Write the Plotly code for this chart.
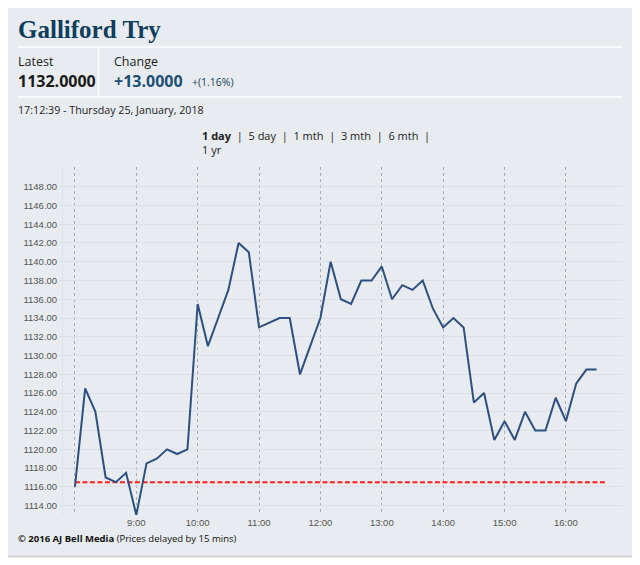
import plotly.graph_objects as go

# ---------------- data ----------------
times = [
    "2018-01-25 08:00", "2018-01-25 08:10", "2018-01-25 08:20", "2018-01-25 08:30",
    "2018-01-25 08:40", "2018-01-25 08:50", "2018-01-25 09:00", "2018-01-25 09:10",
    "2018-01-25 09:20", "2018-01-25 09:30", "2018-01-25 09:40", "2018-01-25 09:50",
    "2018-01-25 10:00", "2018-01-25 10:10", "2018-01-25 10:20", "2018-01-25 10:30",
    "2018-01-25 10:40", "2018-01-25 10:50", "2018-01-25 11:00", "2018-01-25 11:10",
    "2018-01-25 11:20", "2018-01-25 11:30", "2018-01-25 11:40", "2018-01-25 11:50",
    "2018-01-25 12:00", "2018-01-25 12:10", "2018-01-25 12:20", "2018-01-25 12:30",
    "2018-01-25 12:40", "2018-01-25 12:50", "2018-01-25 13:00", "2018-01-25 13:10",
    "2018-01-25 13:20", "2018-01-25 13:30", "2018-01-25 13:40", "2018-01-25 13:50",
    "2018-01-25 14:00", "2018-01-25 14:10", "2018-01-25 14:20", "2018-01-25 14:30",
    "2018-01-25 14:40", "2018-01-25 14:50", "2018-01-25 15:00", "2018-01-25 15:10",
    "2018-01-25 15:20", "2018-01-25 15:30", "2018-01-25 15:40", "2018-01-25 15:50",
    "2018-01-25 16:00", "2018-01-25 16:10", "2018-01-25 16:20", "2018-01-25 16:30",
]
prices = [
    1116.0, 1126.5, 1124.0, 1117.0, 1116.5, 1117.5, 1113.0, 1118.5,
    1119.0, 1120.0, 1119.5, 1120.0, 1135.5, 1131.0, 1134.0, 1137.0,
    1142.0, 1141.0, 1133.0, 1133.5, 1134.0, 1134.0, 1128.0, 1131.0,
    1134.0, 1140.0, 1136.0, 1135.5, 1138.0, 1138.0, 1139.5, 1136.0,
    1137.5, 1137.0, 1138.0, 1135.0, 1133.0, 1134.0, 1133.0, 1125.0,
    1126.0, 1121.0, 1123.0, 1121.0, 1124.0, 1122.0, 1122.0, 1125.5,
    1123.0, 1127.0, 1128.5, 1128.5,
]
ref_times = ["2018-01-25 08:00", "2018-01-25 16:40"]
ref_values = [1116.5, 1116.5]

hour_ticks = ["2018-01-25 08:00", "2018-01-25 09:00", "2018-01-25 10:00",
              "2018-01-25 11:00", "2018-01-25 12:00", "2018-01-25 13:00",
              "2018-01-25 14:00", "2018-01-25 15:00", "2018-01-25 16:00"]
hour_labels = ["", "9:00", "10:00", "11:00", "12:00", "13:00", "14:00", "15:00", "16:00"]
y_ticks = [1114, 1116, 1118, 1120, 1122, 1124, 1126, 1128, 1130, 1132,
           1134, 1136, 1138, 1140, 1142, 1144, 1146, 1148]
y_labels = ["%.2f" % v for v in y_ticks]

title = "Galliford Try"
latest = "1132.0000"
change = "+13.0000"
change_pct = "+(1.16%)"
stamp = "17:12:39 - Thursday 25, January, 2018"

# ---------------- layout helpers ----------------
# The page body has an 8px margin, so figure coords = page coords - 8.
OFF = 8
W, H = 624, 550
L, R, T, B = 63 - OFF, 622 - OFF, 167 - OFF, 515 - OFF
PW, PH = R - L, B - T


def px(x):
    return (x - OFF - L) / PW


def py(y):
    return (B - (y - OFF)) / PH


PANEL = "#e8ebef"
HEAD = "Open Sans"

fig = go.Figure()
fig.add_trace(go.Scatter(x=ref_times, y=ref_values, mode="lines",
                         line=dict(color="#ff1e1e", width=2, dash="5px,2.5px"),
                         hoverinfo="skip", showlegend=False))
fig.add_trace(go.Scatter(x=times, y=prices, mode="lines",
                         line=dict(color="#2d5080", width=2),
                         showlegend=False))

shapes = [
    dict(type="rect", xref="paper", yref="paper", x0=px(0), x1=px(700), y0=py(600), y1=py(556),
         fillcolor="#ffffff", line=dict(width=0), layer="below"),
    dict(type="line", xref="paper", yref="paper", x0=px(0), x1=px(700), y0=py(556.5), y1=py(556.5),
         line=dict(color="#cccccc", width=1.5), layer="below"),
    dict(type="line", xref="paper", yref="paper", x0=px(18), x1=px(622), y0=py(47), y1=py(47),
         line=dict(color="#ffffff", width=1.5), layer="below"),
    dict(type="line", xref="paper", yref="paper", x0=px(18), x1=px(622), y0=py(97), y1=py(97),
         line=dict(color="#ffffff", width=1.5), layer="below"),
    dict(type="line", xref="paper", yref="paper", x0=px(98.5), x1=px(98.5), y0=py(47), y1=py(97),
         line=dict(color="#ffffff", width=1.5), layer="below"),
]


def ann(x, y, text, size, color="#222222", family=HEAD, xanchor="left"):
    return dict(x=px(x), y=py(y), xref="paper", yref="paper", text=text, showarrow=False,
                xanchor=xanchor, yanchor="middle", align="left",
                font=dict(family=family, size=size, color=color))


annotations = [
    ann(16, 29, "<b>" + title + "</b>", 25, "#0e3d5e", "Liberation Serif"),
    ann(16, 61, "Latest", 12.5, "#222222"),
    ann(16, 81, "<b>" + latest + "</b>", 16, "#1a1a1a"),
    ann(112, 61, "Change", 12.5, "#222222"),
    ann(112, 81, "<b>" + change + "</b>", 16, "#1d4f72"),
    ann(190, 82, change_pct, 10.5, "#163f5e"),
    ann(16, 110, stamp, 10.7, "#222222"),
    dict(x=px(200), y=py(126), xref="paper", yref="paper", showarrow=False,
         xanchor="left", yanchor="top", align="left",
         text="<b>1 day</b>  |  5 day  |  1 mth  |  3 mth  |  6 mth  |<br>1 yr",
         font=dict(family=HEAD, size=11, color="#222222")),
    ann(16, 538, "<b>© 2016 AJ Bell Media</b> (Prices delayed by 15 mins)", 9.5, "#111111"),
]

fig.update_layout(
    width=W, height=H,
    margin=dict(l=L, r=W - R, t=T, b=H - B, pad=0),
    paper_bgcolor=PANEL,
    plot_bgcolor="rgba(0,0,0,0)",
    shapes=shapes,
    annotations=annotations,
    showlegend=False,
    xaxis=dict(
        type="date",
        range=["2018-01-25 07:48:20", "2018-01-25 16:54:50"],
        tickvals=hour_ticks, ticktext=hour_labels,
        showgrid=True, gridcolor="#a8abb0", griddash="dot", gridwidth=1,
        zeroline=False, showline=False, ticks="",
        tickfont=dict(family="Liberation Sans", size=9.5, color="#555555"),
    ),
    yaxis=dict(
        range=[1113.0, 1150.1],
        tickvals=y_ticks, ticktext=y_labels,
        showgrid=True, gridcolor="#dde0e5", gridwidth=1,
        zeroline=False, showline=True, linecolor="#dde0e5", linewidth=1,
        ticks="outside", ticklen=3, tickcolor="#d8dbe0",
        tickfont=dict(family="Liberation Sans", size=9.5, color="#555555"),
    ),
)

fig.write_html("out.html")
